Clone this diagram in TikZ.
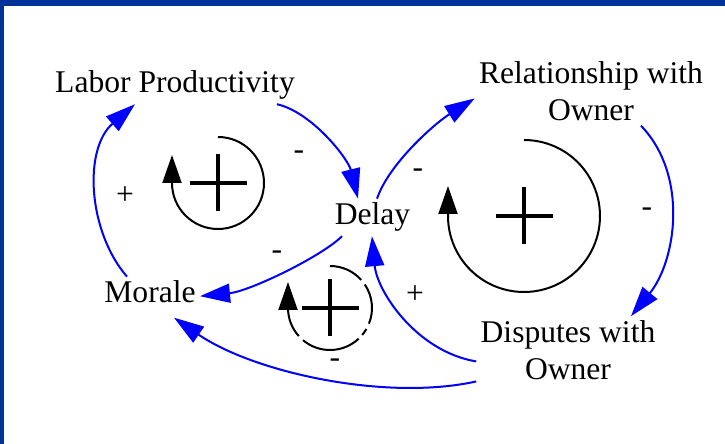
\documentclass[tikz,border=0pt]{standalone}
\usepackage{fontspec}
\setmainfont{Liberation Serif}
\usepackage{tikz}
\usetikzlibrary{arrows.meta}
\definecolor{frameBlue}{RGB}{0,51,153}
\definecolor{linkBlue}{RGB}{0,0,255}

\begin{document}
\begin{tikzpicture}[
    x=0.5pt, y=0.5pt,
    var/.style={inner sep=2pt, align=center, anchor=base,
                font=\fontsize{15.8pt}{18.75pt}\selectfont},
    polarity/.style={inner sep=0pt, font=\fontsize{15.8pt}{18pt}\selectfont},
    causal/.style={draw=linkBlue, line width=1pt, -{Triangle[length=15pt,width=9.5pt]}},
    ring/.style={draw, line width=1pt},
    ringend/.style={draw, line width=1pt, -{Triangle[length=14pt,width=9.5pt]}},
    plusmark/.style={draw, line width=1.75pt}
]
    \useasboundingbox (0,0) rectangle (725,444);
    \fill[frameBlue] (0,438) rectangle (725,444);
    \fill[frameBlue] (0,0) rectangle (4,444);

    % variables
    \node[var] (lp) at (175,351) {Labor Productivity};
    \node[var] (delay) at (372.5,219) {Delay};
    \node[var] (morale) at (150,141) {Morale};
    \node[var] (rel) at (591,323) {Relationship with\\Owner};
    \node[var] (disp) at (568,64) {Disputes with\\Owner};

    % causal links
    \draw[causal] ([shift={(-23,0)}]morale.north) .. controls +(-39,45) and +(-52,-45) .. ([shift={(-40,0)}]lp.south);
    \draw[causal] ([shift={(102,0)}]lp.south) .. controls +(35,-8) and +(-10,40) .. ([shift={(-14.5,0)}]delay.north);
    \draw[causal] ([shift={(-30.5,0)}]delay.south) .. controls +(-20,-20) and +(50,5) .. ([shift={(0,-4)}]morale.east);
    \draw[causal] ([shift={(4.5,0)}]delay.north) .. controls +(12,35) and +(-40,-25) .. ([shift={(0,-7)}]rel.west);
    \draw[causal] ([shift={(50,0)}]rel.south) .. controls +(48,-50) and +(45,55) .. ([shift={(63,0)}]disp.north);
    \draw[causal] ([shift={(0,-11)}]disp.west) .. controls +(-60,10) and +(5,-55) .. ([shift={(-0.5,0)}]delay.south);
    \draw[causal] ([shift={(0,-31)}]disp.west) .. controls +(-90,-20) and +(80,-55) .. ([shift={(24,-10)}]morale.south);

    % polarities
    \node[polarity] (p1) at (125,248) {+};
    \node[polarity] (p2) at (299,289) {-};
    \node[polarity] (p3) at (277,189) {-};
    \node[polarity] (p4) at (418,271) {-};
    \node[polarity] (p5) at (647,232) {-};
    \node[polarity] (p6) at (415,149) {+};
    \node[polarity] (p7) at (335,81) {-};

    % loops
    \coordinate (tl) at (218,261);
    \coordinate (big) at (524,228);
    \coordinate (low) at (330,136);
    \draw[ringend] (tl) ++(90:46) arc[start angle=90, end angle=-180, radius=46] -- ++(0,28);
    \draw[ringend] (big) ++(90:76) arc[start angle=90, end angle=-180, radius=76] -- ++(0,30);
    \foreach \a/\b in {90/42, 34/-22, -30/-40, -47/-130}
        \draw[ring] (low) ++(\a:42) arc[start angle=\a, end angle=\b, radius=42];
    \draw[ringend] (low) ++(-138:42) arc[start angle=-138, end angle=-180, radius=42] -- ++(0,26);
    \draw[plusmark] (tl) +(-28.5,0) -- +(28.5,0) (tl) +(0,-28.5) -- +(0,28.5);
    \draw[plusmark] (big) +(-28.5,0) -- +(28.5,0) (big) +(0,-28.5) -- +(0,28.5);
    \draw[plusmark] (low) +(-28.5,0) -- +(28.5,0) (low) +(0,-28.5) -- +(0,28.5);
\end{tikzpicture}
\end{document}
